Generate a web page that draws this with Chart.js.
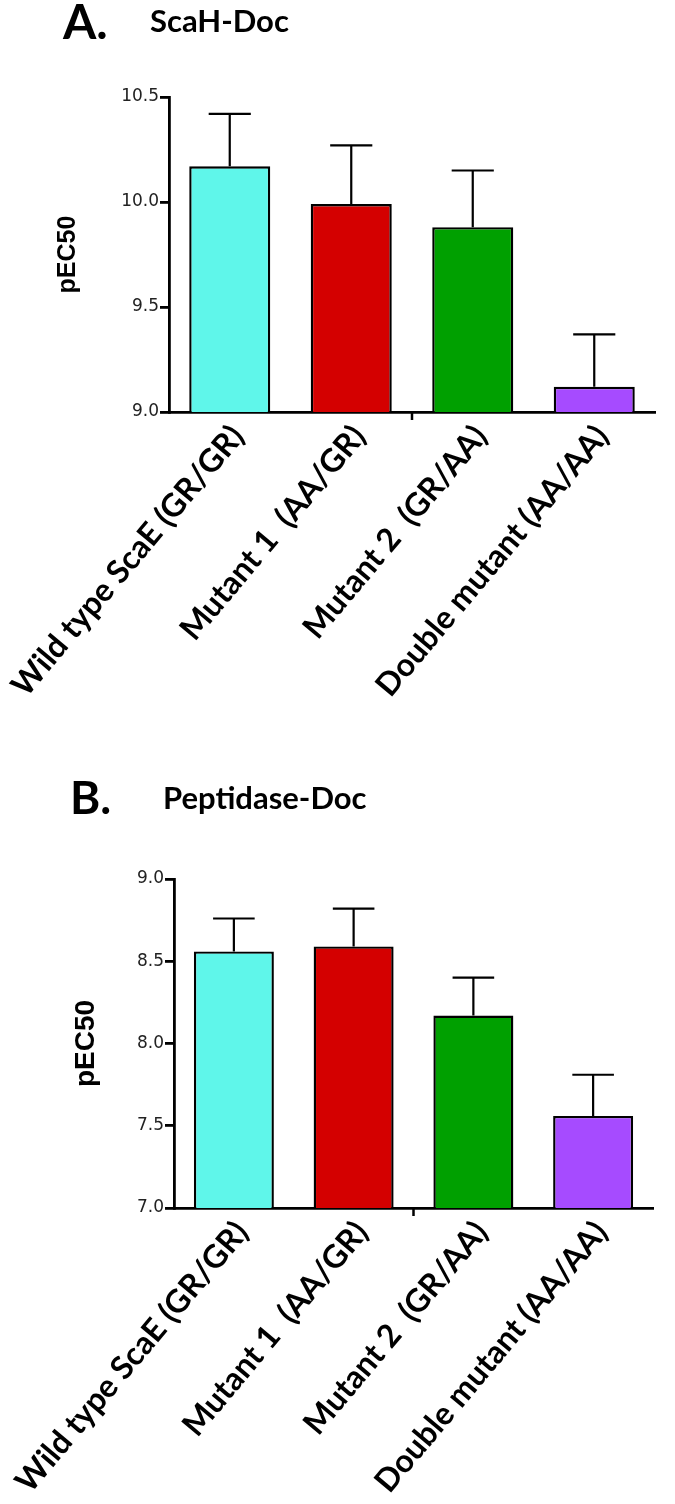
<!DOCTYPE html>
<html><head><meta charset="utf-8">
<script src="https://cdn.jsdelivr.net/npm/chart.js@4/dist/chart.umd.min.js"></script>
<style>
html,body{margin:0;padding:0;background:#fff;width:675px;height:1504px;overflow:hidden;position:relative}
.wrap{position:absolute;left:0;width:675px}
#wa{top:0;height:740px}
#wb{top:740px;height:764px}
.lbl{position:absolute;font-family:Lato,"Open Sans",sans-serif;font-weight:700;color:#000;white-space:nowrap;line-height:1}
</style></head>
<body>
<div class="wrap" id="wa"><canvas id="ca" width="675" height="740"></canvas></div>
<div class="wrap" id="wb"><canvas id="cb" width="675" height="764"></canvas></div>
<div class="lbl" style="left:63px;top:-3px;font-size:48px">A.</div>
<div class="lbl" style="left:150px;top:5px;font-size:31px">ScaH-Doc</div>
<div class="lbl" style="left:70px;top:774px;font-size:46px">B.</div>
<div class="lbl" style="left:163px;top:782px;font-size:31px">Peptidase-Doc</div>
<script>
const categories = ['Wild type ScaE (GR/GR)', 'Mutant 1  (AA/GR)', 'Mutant 2  (GR/AA)', 'Double mutant (AA/AA)'];
const barColors = ['#5ff6ea', '#d40000', '#00a000', '#a64bff'];
const scahMeans = [10.17, 9.99, 9.88, 9.12];
const scahSEM = [0.25, 0.28, 0.27, 0.25];
const scahTicks = [9.0, 9.5, 10.0, 10.5];
const peptMeans = [8.56, 8.59, 8.17, 7.56];
const peptSEM = [0.20, 0.23, 0.23, 0.25];
const peptTicks = [7.0, 7.5, 8.0, 8.5, 9.0];

const errPlugin = {
  id: 'err',
  afterDatasetsDraw(chart, args, opts) {
    const ctx = chart.ctx, y = chart.scales.y;
    const meta = chart.getDatasetMeta(0);
    const data = chart.data.datasets[0].data;
    ctx.save();
    ctx.strokeStyle = '#000'; ctx.lineWidth = 2.2; ctx.lineCap = 'butt';
    meta.data.forEach((bar, i) => {
      const top = y.getPixelForValue(data[i] + opts.values[i]);
      const half = bar.width * 0.26;
      ctx.beginPath();
      ctx.moveTo(bar.x, bar.y); ctx.lineTo(bar.x, top);
      ctx.moveTo(bar.x - half, top); ctx.lineTo(bar.x + half, top);
      ctx.stroke();
    });
    ctx.restore();
  }
};
const midTick = {
  id: 'midTick',
  afterDraw(chart) {
    const ctx = chart.ctx, x = chart.scales.x;
    const cx = (x.left + x.right) / 2;
    ctx.save(); ctx.strokeStyle = '#000'; ctx.lineWidth = 2.5;
    ctx.beginPath(); ctx.moveTo(cx, x.top); ctx.lineTo(cx, x.top + 8); ctx.stroke();
    ctx.restore();
  }
};

function makeChart(id, means, sems, ticks, g) {
  return new Chart(document.getElementById(id), {
    type: 'bar',
    data: {
      labels: categories,
      datasets: [{
        data: means,
        backgroundColor: barColors,
        borderColor: '#000',
        borderWidth: 2.4,
        borderSkipped: false,
        categoryPercentage: 1,
        barPercentage: g.barPct
      }]
    },
    options: {
      responsive: false,
      animation: false,
      events: [],
      layout: { padding: { top: g.top, right: 675 - g.right, left: 0, bottom: 0 } },
      plugins: { legend: { display: false }, tooltip: { enabled: false }, err: { values: sems } },
      scales: {
        x: {
          offset: true,
          grid: { display: false, drawTicks: false },
          border: { display: true, width: 2.8, color: '#000' },
          ticks: {
            autoSkip: false, minRotation: 50, maxRotation: 50, padding: 6, labelOffset: 8,
            color: '#000', font: { family: 'Lato', weight: 'bold', size: g.xFont }
          },
          afterFit: s => { s.height = g.H - g.bottom; s.paddingLeft = 0; s.paddingRight = 0; }
        },
        y: {
          min: ticks[0], max: ticks[ticks.length - 1],
          afterBuildTicks: s => { s.ticks = ticks.map(v => ({ value: v })); },
          grid: { display: true, drawOnChartArea: false, drawTicks: true, tickLength: 9, lineWidth: 2.8, color: '#000' },
          border: { display: true, width: 2.8, color: '#000' },
          ticks: {
            padding: 1, color: '#222',
            font: { family: 'DejaVu Sans', size: 17 },
            callback: v => Number(v).toFixed(1)
          },
          title: {
            display: true, text: 'pEC50', color: '#000',
            font: { family: 'Liberation Sans', weight: 'bold', size: g.tFont },
            padding: { top: g.tPad, bottom: 0 }
          },
          afterFit: s => { s.width = g.left; s.paddingTop = 0; s.paddingBottom = 0; }
        }
      }
    },
    plugins: [errPlugin, midTick]
  });
}

makeChart('ca', scahMeans, scahSEM, scahTicks,
  { H: 740, top: 97, bottom: 412, left: 169, right: 655, barPct: 0.667, xFont: 32, tFont: 25, tPad: 53 });
makeChart('cb', peptMeans, peptSEM, peptTicks,
  { H: 764, top: 139, bottom: 468, left: 174, right: 653, barPct: 0.668, xFont: 32, tFont: 28, tPad: 69 });
</script>
</body></html>
